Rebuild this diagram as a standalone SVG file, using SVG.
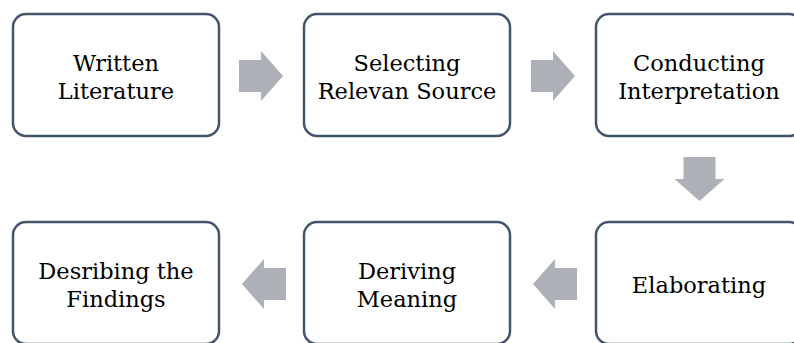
<svg xmlns="http://www.w3.org/2000/svg" width="794" height="343" viewBox="0 0 794 343">
<defs>
<style>
.box{fill:#fff;stroke:#44546A;stroke-width:2.5}
.lbl{font-family:"DejaVu Serif","Liberation Serif",serif;font-size:22.5px;fill:#000;text-anchor:middle}
.arr{fill:#ADB0B6}
</style>
<path id="rarrow" d="M0,-16 H22 V-25 L44,0 L22,25 V16 H0 Z"/>
</defs>
<rect width="794" height="343" fill="#fff"/>
<g id="connectors">
<use href="#rarrow" class="arr" transform="translate(239,76)"/>
<use href="#rarrow" class="arr" transform="translate(531,76)"/>
<use href="#rarrow" class="arr" transform="translate(699.5,157) rotate(90)"/>
<use href="#rarrow" class="arr" transform="translate(577,284) rotate(180)"/>
<use href="#rarrow" class="arr" transform="translate(286,284) rotate(180)"/>
</g>
<g id="n1"><rect class="box" x="13" y="14" width="206" height="122" rx="13"/><text class="lbl" x="116" y="71">Written</text><text class="lbl" x="116" y="99">Literature</text></g>
<g id="n2"><rect class="box" x="304" y="14" width="206" height="122" rx="13"/><text class="lbl" x="407" y="71">Selecting</text><text class="lbl" x="407" y="99">Relevan Source</text></g>
<g id="n3"><rect class="box" x="596" y="14" width="206" height="122" rx="13"/><text class="lbl" x="699" y="71">Conducting</text><text class="lbl" x="699" y="99">Interpretation</text></g>
<g id="n4"><rect class="box" x="596" y="222" width="206" height="122" rx="13"/><text class="lbl" x="699" y="293">Elaborating</text></g>
<g id="n5"><rect class="box" x="304" y="222" width="206" height="122" rx="13"/><text class="lbl" x="407" y="279">Deriving</text><text class="lbl" x="407" y="307">Meaning</text></g>
<g id="n6"><rect class="box" x="13" y="222" width="206" height="122" rx="13"/><text class="lbl" x="116" y="279">Desribing the</text><text class="lbl" x="116" y="307">Findings</text></g>
</svg>
